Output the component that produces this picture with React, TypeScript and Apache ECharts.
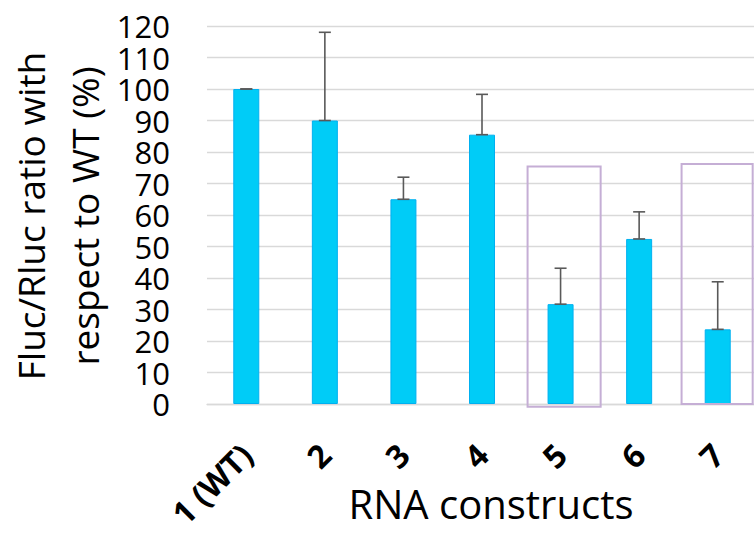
import React, { useEffect, useRef } from "react";
import * as echarts from "echarts";

const categories = ["1 (WT)", "2", "3", "4", "5", "6", "7"];
const ratioValues = [100, 90, 65, 85.5, 31.7, 52.4, 23.7];
const errorUpper = [100, 118, 72, 98.3, 43.1, 61, 38.8];
const yTicks = { min: 0, max: 120, interval: 10 };
const yTitleLines = ["Fluc/Rluc ratio with", "respect to WT (%)"];
const xTitle = "RNA constructs";
// highlight boxes: category index, top value, bottom value, left/right offsets in band units
const boxCategory = [4, 6];
const boxTop = [75.4, 76.2];
const boxBottom = [-0.9, 0];
const boxLeft = [-0.42, -0.46];
const boxRight = [0.51, 0.445];

export default function App() {
  const ref = useRef<HTMLDivElement>(null);
  useEffect(() => {
    if (!ref.current) return;
    const chart = echarts.init(ref.current, undefined, { renderer: "svg" });
    const font = "'Open Sans', sans-serif";
    chart.setOption({
      animation: false,
      grid: {
        left: 207,
        right: -3,
        top: 26,
        bottom: 135,
        containLabel: false,
        outerBoundsMode: "none",
      },
      graphic: [
        {
          type: "text",
          x: 30,
          y: 216,
          rotation: Math.PI / 2,
          style: {
            text: yTitleLines[0],
            fontFamily: font,
            fontSize: 37,
            fill: "#000",
            align: "center",
            verticalAlign: "middle",
          },
        },
        {
          type: "text",
          x: 84,
          y: 216,
          rotation: Math.PI / 2,
          style: {
            text: yTitleLines[1],
            fontFamily: font,
            fontSize: 37,
            fill: "#000",
            align: "center",
            verticalAlign: "middle",
          },
        },
        {
          type: "text",
          x: 491,
          y: 503,
          style: {
            text: xTitle,
            fontFamily: font,
            fontSize: 40,
            fill: "#000",
            align: "center",
            verticalAlign: "middle",
          },
        },
      ],
      xAxis: {
        type: "category",
        data: categories,
        axisLine: { show: true, lineStyle: { color: "#d9d9d9", width: 1.3 } },
        axisTick: { show: false },
        axisLabel: {
          rotate: 45,
          margin: 45,
          fontFamily: font,
          fontWeight: "bold",
          fontSize: 32,
          color: "#000",
          interval: 0,
          hideOverlap: false,
        },
      },
      yAxis: {
        type: "value",
        min: yTicks.min,
        max: yTicks.max,
        interval: yTicks.interval,
        axisLine: { show: false },
        axisTick: { show: false },
        splitLine: { lineStyle: { color: "#d9d9d9", width: 1.3 } },
        axisLabel: {
          fontFamily: font,
          fontSize: 31,
          lineHeight: 28,
          color: "#000",
          margin: 37,
          showMinLabel: true,
          showMaxLabel: true,
          hideOverlap: false,
        },
      },
      series: [
        {
          type: "bar",
          data: ratioValues,
          barWidth: 26,
          itemStyle: { color: "#00CCF7", borderColor: "#00B0F0", borderWidth: 1 },
          z: 2,
        },
        {
          type: "custom",
          z: 3,
          data: ratioValues.map((v, i) => [i, v, errorUpper[i]]),
          renderItem: (params: any, api: any) => {
            const i = api.value(0);
            const lo = api.coord([i, api.value(1)]);
            const hi = api.coord([i, api.value(2)]);
            const half = 6;
            const style = { stroke: "#595959", lineWidth: 1.6 };
            return {
              type: "group",
              children: [
                { type: "line", shape: { x1: lo[0], y1: lo[1], x2: hi[0], y2: hi[1] }, style },
                { type: "line", shape: { x1: lo[0] - half, y1: lo[1], x2: lo[0] + half, y2: lo[1] }, style },
                { type: "line", shape: { x1: hi[0] - half, y1: hi[1], x2: hi[0] + half, y2: hi[1] }, style },
              ],
            };
          },
        },
        {
          type: "custom",
          z: 4,
          clip: false,
          data: boxCategory.map((c, k) => [c, boxTop[k], boxBottom[k], boxLeft[k], boxRight[k]]),
          renderItem: (params: any, api: any) => {
            const c = api.value(0);
            const top = api.coord([c, api.value(1)]);
            const bot = api.coord([c, api.value(2)]);
            const band = api.size([1, 0])[0];
            const x1 = top[0] + api.value(3) * band;
            const x2 = top[0] + api.value(4) * band;
            return {
              type: "rect",
              shape: { x: x1, y: top[1], width: x2 - x1, height: bot[1] - top[1] },
              style: { fill: "none", stroke: "#C5AED5", lineWidth: 2 },
            };
          },
        },
      ],
    });
    return () => chart.dispose();
  }, []);
  return (
    <div
      ref={ref}
      style={{ position: "fixed", left: 0, top: 0, width: 754, height: 539, background: "#fff" }}
    />
  );
}
